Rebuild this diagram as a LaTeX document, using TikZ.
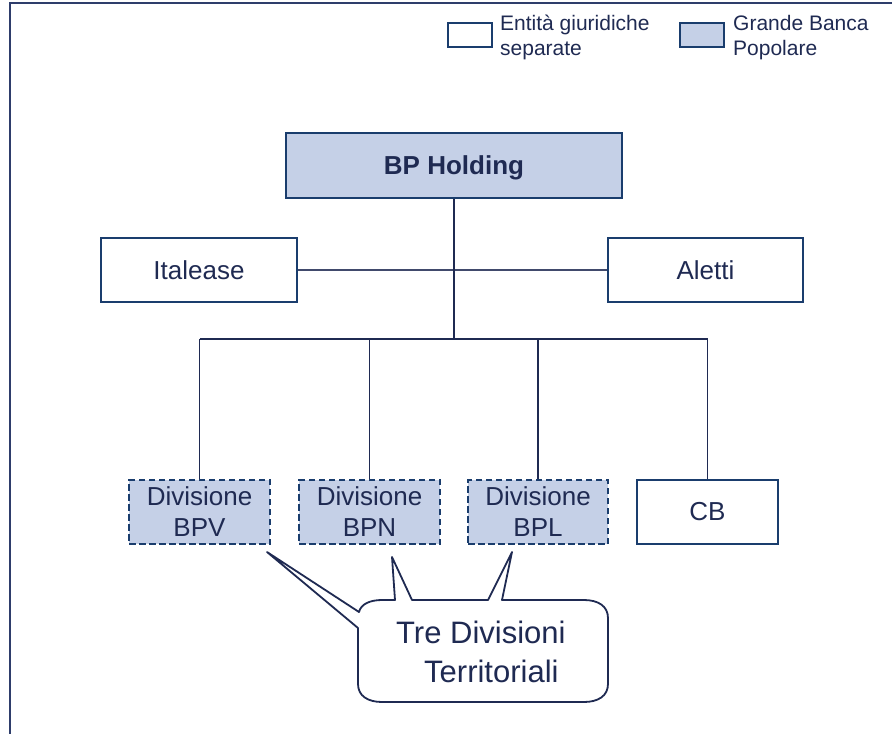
\documentclass[tikz,border=0pt]{standalone}
\usepackage{fontspec}
\setmainfont{Liberation Sans}
\begin{document}
\begin{tikzpicture}[x=1pt,y=-1pt,
  box/.style={draw=boxc,line width=2pt,inner sep=0pt,text=textc,font=\fontsize{26}{31}\selectfont,align=center},
  gbox/.style={box,fill=fillc},
  divbox/.style={box,fill=fillc,line width=1.6pt,dash pattern=on 6.5pt off 3.5pt},
  legbox/.style={draw=boxc,line width=2pt,inner sep=0pt,minimum width=44pt,minimum height=24pt},
  legtxt/.style={text=textc,font=\fontsize{21}{25}\selectfont,inner sep=0pt,anchor=base west},
  conn/.style={draw=linec,line width=1.8pt},
  thickconn/.style={draw=linec,line width=2.4pt},
  thinconn/.style={draw=linec!85!white,line width=1.4pt},
  calltxt/.style={text=textc,font=\fontsize{31}{39}\selectfont,inner sep=0pt,anchor=base west},
  callout/.style={draw=linec,line width=1.8pt,fill=white,line join=round}
]
\definecolor{textc}{HTML}{1F2A52}
\definecolor{boxc}{HTML}{1A3D6D}
\definecolor{fillc}{HTML}{C5D0E7}
\definecolor{linec}{HTML}{1F2A52}
\definecolor{framec}{HTML}{2E3D6B}
\useasboundingbox (0,0) rectangle (892,734);
% frame
\draw[framec,line width=2pt] (892,3) -- (10,3) -- (10,734);
% legend
\node[legbox] (legA) at (470,35) {};
\node[legbox,fill=fillc] (legB) at (701.5,35) {};
\node[legtxt] (legA1) at (500,30) {Entità giuridiche};
\node[legtxt] (legA2) at (500,55) {separate};
\node[legtxt] (legB1) at (733,30) {Grande Banca};
\node[legtxt] (legB2) at (733,55) {Popolare};
% boxes
\node[gbox,minimum width=336pt,minimum height=65pt,font=\fontsize{26}{31}\selectfont\bfseries,text depth=0pt] (hold) at (454,165.5) {BP Holding};
\node[box,minimum width=196pt,minimum height=64pt] (ital) at (199,270) {Italease};
\node[box,minimum width=195pt,minimum height=64pt] (alet) at (705.5,270) {Aletti};
\node[divbox,minimum width=141pt,minimum height=64pt] (bpv) at (199.5,512) {Divisione\\BPV};
\node[divbox,minimum width=141pt,minimum height=64pt] (bpn) at (369.5,512) {Divisione\\BPN};
\node[divbox,minimum width=140pt,minimum height=64pt] (bpl) at (538,512) {Divisione\\BPL};
\node[box,minimum width=141pt,minimum height=64pt] (cb) at (707.5,512) {CB};
% connectors
\coordinate (bus) at (454,339);
\draw[thinconn] (ital.east) -- (alet.west);
\draw[thickconn] (hold.south) -- (bus);
\draw[thickconn] (bpv.north |- bus) -- (cb.north |- bus);
\draw[conn] (bpv.north |- bus) -- (bpv.north);
\draw[conn] (bpn.north |- bus) -- (bpn.north);
\draw[conn] (bpl.north |- bus) -- (bpl.north);
\draw[conn] (cb.north |- bus) -- (cb.north);
% callout
\draw[callout] (412,600) -- (488,600) -- (512,552) -- (502,600) -- (584,600)
  .. controls (598,600) and (608,606) .. (608,618) -- (608,684)
  .. controls (608,696) and (598,702) .. (584,702) -- (382,702)
  .. controls (368,702) and (358,696) .. (358,684) -- (358,628) -- (267,552) -- (359,612)
  .. controls (361,604) and (370,600) .. (382,600) -- (395,600) -- (392,557) -- cycle;
\node[calltxt] (call1) at (396,643) {Tre Divisioni};
\node[calltxt] (call2) at (424,682) {Territoriali};
\end{tikzpicture}
\end{document}
